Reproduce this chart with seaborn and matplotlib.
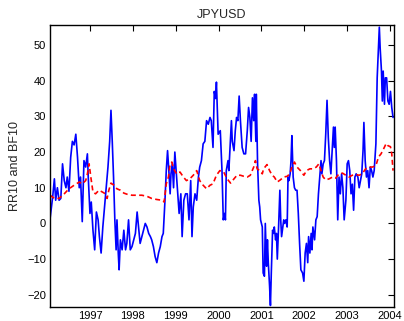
import matplotlib
matplotlib.use("Agg")
import matplotlib.pyplot as plt
import seaborn as sns
import pandas as pd

rr_years = [1996.07, 1996.13, 1996.17, 1996.20, 1996.24, 1996.28, 1996.32, 1996.36, 1996.40, 1996.44,
            1996.47, 1996.51, 1996.55, 1996.59, 1996.63, 1996.67, 1996.71, 1996.75, 1996.78, 1996.82,
            1996.86, 1996.90, 1996.94, 1996.96, 1997.00, 1997.03, 1997.07, 1997.11, 1997.15, 1997.19,
            1997.22, 1997.26, 1997.30, 1997.34, 1997.38, 1997.42, 1997.46, 1997.49, 1997.52, 1997.55,
            1997.58, 1997.61, 1997.63, 1997.66, 1997.68, 1997.71, 1997.75, 1997.79, 1997.83, 1997.86,
            1997.90, 1997.94, 1997.98, 1998.02, 1998.06, 1998.10, 1998.14, 1998.17, 1998.21, 1998.25,
            1998.29, 1998.33, 1998.37, 1998.41, 1998.44, 1998.48, 1998.52, 1998.56, 1998.60, 1998.64,
            1998.68, 1998.71, 1998.75, 1998.78, 1998.81, 1998.84, 1998.87, 1998.89, 1998.92, 1998.95,
            1998.98, 1999.01, 1999.04, 1999.08, 1999.12, 1999.15, 1999.19, 1999.23, 1999.27, 1999.31,
            1999.35, 1999.38, 1999.41, 1999.45, 1999.49, 1999.53, 1999.56, 1999.60, 1999.64, 1999.68,
            1999.72, 1999.76, 1999.80, 1999.83, 1999.87, 1999.90, 1999.93, 1999.95, 1999.99,
            2000.04, 2000.08, 2000.11, 2000.14, 2000.16, 2000.18, 2000.22, 2000.24, 2000.28, 2000.30,
            2000.32, 2000.36, 2000.39, 2000.42, 2000.45, 2000.48, 2000.51, 2000.55, 2000.59, 2000.63,
            2000.67, 2000.70, 2000.73, 2000.76, 2000.79, 2000.82, 2000.84, 2000.87, 2000.88, 2000.91,
            2000.94, 2000.96, 2000.98, 2001.02, 2001.04, 2001.07, 2001.09, 2001.12, 2001.14, 2001.16,
            2001.19, 2001.21, 2001.23, 2001.26, 2001.28, 2001.30, 2001.33, 2001.35, 2001.37, 2001.40,
            2001.43, 2001.45, 2001.47, 2001.50, 2001.52, 2001.54, 2001.57, 2001.60, 2001.62, 2001.64,
            2001.67, 2001.69, 2001.71, 2001.74, 2001.77, 2001.80, 2001.83, 2001.86, 2001.89, 2001.92,
            2001.96, 2001.99, 2002.02, 2002.05, 2002.08, 2002.10, 2002.13, 2002.16, 2002.18, 2002.20,
            2002.24, 2002.27, 2002.30, 2002.33, 2002.36, 2002.39, 2002.41, 2002.44, 2002.47, 2002.50,
            2002.53, 2002.56, 2002.59, 2002.62, 2002.66, 2002.68, 2002.70, 2002.72, 2002.75, 2002.78,
            2002.81, 2002.84, 2002.87, 2002.90, 2002.93, 2002.97, 2003.00, 2003.03, 2003.06, 2003.09,
            2003.12, 2003.15, 2003.18, 2003.21, 2003.25, 2003.28, 2003.31, 2003.34, 2003.37, 2003.39,
            2003.42, 2003.45, 2003.48, 2003.51, 2003.54, 2003.57, 2003.60, 2003.63, 2003.67, 2003.70,
            2003.73, 2003.75, 2003.77, 2003.80, 2003.82, 2003.84, 2003.87, 2003.89, 2003.92, 2003.95,
            2003.98, 2004.01, 2004.04, 2004.07]
rr10 = [1.4, 7.4, 12.5, 6.5, 10.0, 6.5, 7.0, 16.7, 12.0, 10.0,
        13.0, 9.0, 18.5, 23.0, 22.0, 25.0, 18.5, 10.0, 13.0, 0.5,
        17.6, 15.8, 19.5, 13.0, 2.8, 6.0, -1.9, -7.4, 3.2, 1.0,
        -3.7, -8.3, -1.0, 4.6, 10.0, 15.8, 23.0, 31.7, 23.0, 13.0,
        1.0, -7.4, 1.0, -8.3, -13.0, -4.6, -7.4, -1.9, -7.4, -5.6,
        1.0, -7.4, -6.5, -4.6, -2.8, 3.2, -1.9, -5.6, -3.7, -1.9,
        0.0, -1.0, -2.8, -3.7, -4.6, -6.5, -9.3, -11.0, -8.3, -6.5,
        -3.7, -2.8, 6.5, 14.8, 20.4, 14.8, 8.3, 13.9, 16.7, 10.0,
        20.0, 14.8, 10.0, 2.8, 8.3, -3.7, 6.5, 8.3, 8.3, 1.0,
        12.0, -3.7, 4.6, 8.3, 6.5, 13.0, 15.8, 17.6, 22.3, 23.0,
        28.8, 27.8, 29.7, 28.8, 21.3, 37.0, 35.0, 39.6, 25.0,
        26.0, 14.8, 1.0, 2.8, 1.0, 14.8, 17.6, 14.8, 24.0, 28.8,
        23.0, 20.4, 26.0, 29.7, 28.8, 35.7, 28.8, 21.3, 19.5, 19.5,
        26.0, 32.5, 29.7, 23.0, 35.2, 28.8, 36.2, 23.0, 36.2, 16.7,
        6.5, 4.6, 1.0, -1.0, -13.9, -14.8, 0.0, -12.0, -4.6, -11.0,
        -17.6, -23.0, -13.9, -1.9, -2.8, -1.0, -4.6, -2.8, -10.0, -1.0,
        9.3, 1.0, -3.7, -1.0, 1.0, 0.0, 1.0, -1.0, 13.0, 12.0,
        13.9, 17.6, 24.6, 13.0, 10.0, 9.3, 9.3, 2.8, -5.6, -13.0,
        -13.9, -16.2, -8.3, -5.6, -11.0, -3.7, -8.3, -2.8, -7.4, -1.0,
        -4.6, 1.0, 1.9, 8.3, 13.0, 17.6, 13.9, 16.7, 17.6, 25.0,
        34.5, 24.0, 17.6, 13.9, 23.0, 27.0, 21.3, 27.0, 17.6, 1.0,
        13.0, 8.3, 13.9, 10.0, 1.0, 6.5, 16.7, 17.6, 14.8, 8.3,
        11.0, 3.7, 13.0, 13.9, 13.0, 10.0, 12.0, 13.9, 20.4, 28.3,
        17.6, 13.0, 14.8, 10.0, 15.8, 14.8, 13.0, 14.8, 22.3, 40.8,
        49.0, 55.0, 49.0, 42.7, 34.3, 42.7, 33.4, 40.8, 40.8, 34.3,
        33.4, 37.0, 32.5, 29.7]

bf_years = [1996.07, 1996.17, 1996.28, 1996.40, 1996.51, 1996.63, 1996.75, 1996.82, 1996.90, 1996.94,
            1996.98, 1997.02, 1997.07, 1997.13, 1997.21, 1997.29, 1997.36, 1997.40, 1997.44, 1997.49,
            1997.56, 1997.63, 1997.71, 1997.79, 1997.86, 1997.98, 1998.10, 1998.21, 1998.33, 1998.44,
            1998.56, 1998.68, 1998.73, 1998.78, 1998.83, 1998.87, 1998.91, 1998.95, 1999.02, 1999.10,
            1999.18, 1999.25, 1999.33, 1999.41, 1999.49, 1999.56, 1999.64, 1999.72, 1999.80, 1999.87,
            1999.95, 2000.03, 2000.12, 2000.20, 2000.28, 2000.36, 2000.43, 2000.51, 2000.59, 2000.67,
            2000.74, 2000.82, 2000.86, 2000.90, 2000.96, 2001.02, 2001.05, 2001.13, 2001.19, 2001.25,
            2001.30, 2001.37, 2001.44, 2001.52, 2001.60, 2001.66, 2001.71, 2001.77, 2001.83, 2001.91,
            2001.99, 2002.05, 2002.13, 2002.20, 2002.28, 2002.34, 2002.39, 2002.44, 2002.50, 2002.58,
            2002.66, 2002.73, 2002.81, 2002.89, 2002.97, 2003.04, 2003.12, 2003.20, 2003.28, 2003.35,
            2003.43, 2003.51, 2003.59, 2003.67, 2003.73, 2003.79, 2003.85, 2003.91, 2003.95, 2004.01,
            2004.04, 2004.07]
bf10 = [7.9, 7.0, 7.0, 8.3, 9.7, 10.7, 11.6, 11.1, 12.0, 13.9,
        16.7, 13.0, 8.8, 8.3, 9.3, 8.8, 8.3, 7.0, 9.3, 11.3,
        10.7, 9.7, 9.3, 8.5, 8.2, 7.9, 7.9, 7.9, 7.6, 7.0,
        6.7, 6.5, 6.0, 11.1, 13.0, 16.7, 17.2, 15.3, 13.9, 14.4,
        13.0, 12.0, 12.5, 13.5, 14.8, 12.0, 10.7, 9.7, 10.7, 11.1,
        13.5, 14.8, 14.4, 12.5, 11.3, 12.5, 13.5, 13.5, 13.2, 13.0,
        13.5, 15.8, 17.6, 15.3, 14.8, 13.9, 15.3, 16.5, 14.8, 13.5,
        13.0, 11.6, 12.2, 13.0, 13.2, 13.9, 15.8, 17.2, 15.8, 14.8,
        13.5, 14.8, 15.3, 15.3, 15.8, 16.7, 14.8, 13.0, 12.2, 12.5,
        13.0, 12.7, 13.9, 14.1, 13.5, 13.0, 13.5, 13.7, 13.5, 13.9,
        15.3, 15.8, 15.8, 16.2, 18.6, 19.5, 20.9, 22.4, 21.8, 21.5,
        19.5, 14.8]

x_ticks = [1997, 1998, 1999, 2000, 2001, 2002, 2003, 2004]
y_ticks = [-20, -10, 0, 10, 20, 30, 40, 50]

sns.set_style("white")
plt.rcParams['font.family'] = ['Liberation Sans', 'DejaVu Sans']

rr_df = pd.DataFrame({"year": rr_years, "value": rr10})
bf_df = pd.DataFrame({"year": bf_years, "value": bf10})

fig = plt.figure(figsize=(4.04, 3.21), dpi=100)
ax = fig.add_axes([0.124, 0.045, 0.851, 0.877])

sns.lineplot(data=rr_df, x="year", y="value", ax=ax, color="#0000ff",
             linewidth=1.2, estimator=None, sort=False)
sns.lineplot(data=bf_df, x="year", y="value", ax=ax, color="#ff0000",
             linewidth=1.2, estimator=None, sort=False)
ax.lines[-1].set_linestyle((0, (3, 2)))

ax.set_xlim(1996.07, 2004.09)
ax.set_ylim(-23.3, 55.6)
ax.set_xticks(x_ticks)
ax.set_xticklabels([str(t) for t in x_ticks])
ax.set_yticks(y_ticks)
ax.set_yticklabels([str(t).replace("-", "\u2212") for t in y_ticks])
ax.tick_params(direction="in", length=4, width=0.8, top=True, right=True,
               labelsize=8, colors="black", pad=3)
for sp in ax.spines.values():
    sp.set_visible(True)
    sp.set_color("black")
    sp.set_linewidth(1.0)
ax.set_xlabel("")
ax.set_ylabel("RR10 and BF10", fontsize=9)
ax.set_title("JPYUSD", fontsize=9, pad=5)

fig.savefig("out.png", dpi=100)
